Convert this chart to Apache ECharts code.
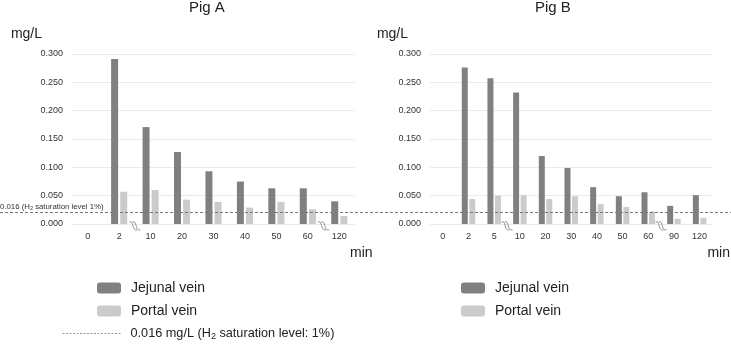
<!DOCTYPE html>
<html>
<head>
<meta charset="utf-8">
<script src="https://cdn.jsdelivr.net/npm/echarts@6/dist/echarts.min.js"></script>
<style>
html, body { margin: 0; padding: 0; background: #fff; }
#main { width: 731px; height: 351px; }
</style>
</head>
<body>
<div id="main"></div>
<script>
// Pig A
var timesA = ['0', '2', '10', '20', '30', '40', '50', '60', '120'];
var jejunalA = [null, 0.291, 0.171, 0.127, 0.093, 0.075, 0.063, 0.063, 0.040];
var portalA = [null, 0.057, 0.060, 0.043, 0.039, 0.029, 0.039, 0.026, 0.014];
var breaksA = ['2', '60'];   // axis break drawn after these categories

// Pig B
var timesB = ['0', '2', '5', '10', '20', '30', '40', '50', '60', '90', '120'];
var jejunalB = [null, 0.276, 0.257, 0.232, 0.120, 0.099, 0.065, 0.049, 0.056, 0.032, 0.051];
var portalB = [null, 0.044, 0.050, 0.051, 0.044, 0.049, 0.035, 0.030, 0.022, 0.009, 0.011];
var breaksB = ['5', '60'];

var saturation = 0.016;
var satName = '0.016 mg/L (H2 saturation level: 1%)';

var font = 'Liberation Sans';
var dark = '#808080', light = '#cbcbcb';

var myChart = echarts.init(document.getElementById('main'));

function xAx(idx, times) {
    return {
        type: 'category', gridIndex: idx, data: times,
        axisTick: { show: false },
        axisLine: { show: false },
        axisLabel: { fontSize: 9, color: '#333', margin: 8, fontFamily: font },
        name: 'min', nameLocation: 'end', nameGap: -5,
        nameTextStyle: { fontSize: 14, color: '#222', fontFamily: font, align: 'left', verticalAlign: 'top', padding: [22, 0, 0, 0] }
    };
}
function yAx(idx, padRight) {
    return {
        type: 'value', gridIndex: idx, min: 0, max: 0.3, interval: 0.05,
        axisLabel: { fontSize: 9, color: '#333', margin: 9, fontFamily: font,
            formatter: function (v) { return v.toFixed(3); } },
        splitLine: { lineStyle: { color: '#ebebeb' } },
        name: 'mg/L', nameLocation: 'end', nameGap: 20,
        nameTextStyle: { fontSize: 14, color: '#222', fontFamily: font, align: 'right', verticalAlign: 'middle', padding: [0, padRight, 0, 0] }
    };
}
// two small wavy strokes marking a break in the time axis
function breakSeries(idx, times, breaks) {
    return {
        type: 'custom', xAxisIndex: idx, yAxisIndex: idx, silent: true, z: 5,
        data: breaks.map(function (t) { return [times.indexOf(t), 0]; }),
        renderItem: function (params, api) {
            var p = api.coord([api.value(0), 0]);
            var half = api.size([1, 0])[0] / 2;
            var x = p[0] + half, y = p[1] + 2;
            var kids = [-1.6, 1.6].map(function (dx) {
                return {
                    type: 'bezierCurve',
                    shape: { x1: x + dx - 4, y1: y - 4, cpx1: x + dx + 1, cpy1: y - 6,
                             cpx2: x + dx - 2, cpy2: y + 5, x2: x + dx + 4, y2: y + 4 },
                    style: { stroke: '#777', lineWidth: 0.8, fill: null }
                };
            });
            return { type: 'group', children: kids };
        }
    };
}
function barSeries(name, idx, data, color, w, gap) {
    return {
        name: name, type: 'bar', xAxisIndex: idx, yAxisIndex: idx, data: data,
        barWidth: w, barGap: gap, itemStyle: { color: color }
    };
}

var legendText = { fontSize: 14, color: '#222', padding: [0, 0, 0, 5] };

var option = {
    animation: false,
    textStyle: { fontFamily: font },
    title: [
        { text: 'Pig A', left: 189, top: 0, padding: 0, textStyle: { fontSize: 15, fontWeight: 'normal', color: '#222', fontFamily: font } },
        { text: 'Pig B', left: 535, top: 0, padding: 0, textStyle: { fontSize: 15, fontWeight: 'normal', color: '#222', fontFamily: font } }
    ],
    grid: [
        { left: 72, width: 283, top: 54, height: 170 },
        { left: 430, width: 285, top: 54, height: 170 },
        { left: 0, right: 0, top: 54, height: 170 }
    ],
    xAxis: [
        xAx(0, timesA),
        xAx(1, timesB),
        { type: 'value', gridIndex: 2, show: false, min: 0, max: 1 }
    ],
    yAxis: [
        yAx(0, 30),
        yAx(1, 22),
        { type: 'value', gridIndex: 2, show: false, min: 0, max: 0.3 }
    ],
    legend: [
        { left: 92, top: 276, orient: 'vertical', itemWidth: 24, itemHeight: 11, itemGap: 9,
          data: ['Jejunal vein', 'Portal vein'], selectedMode: false, textStyle: legendText },
        { left: 456, top: 276, orient: 'vertical', itemWidth: 24, itemHeight: 11, itemGap: 9,
          data: ['Jejunal vein', 'Portal vein'], selectedMode: false, textStyle: legendText },
        { left: 57, top: 322, itemWidth: 58, itemHeight: 11, data: [satName], selectedMode: false,
          itemStyle: { opacity: 0 },
          lineStyle: { color: '#999', width: 1, type: [2, 1.5] },
          formatter: function () { return '{a|0.016 mg/L (H}{s|2}{a| saturation level: 1%)}'; },
          textStyle: { padding: [0, 0, 0, 5], rich: {
              a: { fontSize: 12.7, color: '#222', fontFamily: font },
              s: { fontSize: 9, color: '#222', fontFamily: font, verticalAlign: 'bottom', padding: [6, 0, 0, 0] } } } }
    ],
    series: [
        barSeries('Jejunal vein', 0, jejunalA, dark, 7, '30%'),
        barSeries('Portal vein', 0, portalA, light, 7, '30%'),
        barSeries('Jejunal vein', 1, jejunalB, dark, 6, '25%'),
        barSeries('Portal vein', 1, portalB, light, 6, '25%'),
        breakSeries(0, timesA, breaksA),
        breakSeries(1, timesB, breaksB),
        {
            name: satName, type: 'line', xAxisIndex: 2, yAxisIndex: 2, data: [],
            symbol: 'none', silent: true, z: 10,
            lineStyle: { color: '#888', width: 1, type: [3, 2] },
            markLine: {
                silent: true, symbol: 'none',
                lineStyle: { color: '#777', width: 1, type: [3, 2] },
                data: [{ yAxis: saturation }],
                label: {
                    show: true, position: 'insideStartTop', distance: [0, 1],
                    formatter: '{a|0.016 (H}{s|2}{a| saturation level 1%)}',
                    rich: {
                        a: { fontSize: 7.8, color: '#333', fontFamily: font },
                        s: { fontSize: 5.5, color: '#333', fontFamily: font, verticalAlign: 'bottom', padding: [3, 0, 0, 0] }
                    }
                }
            }
        }
    ]
};

myChart.setOption(option);
</script>
</body>
</html>
